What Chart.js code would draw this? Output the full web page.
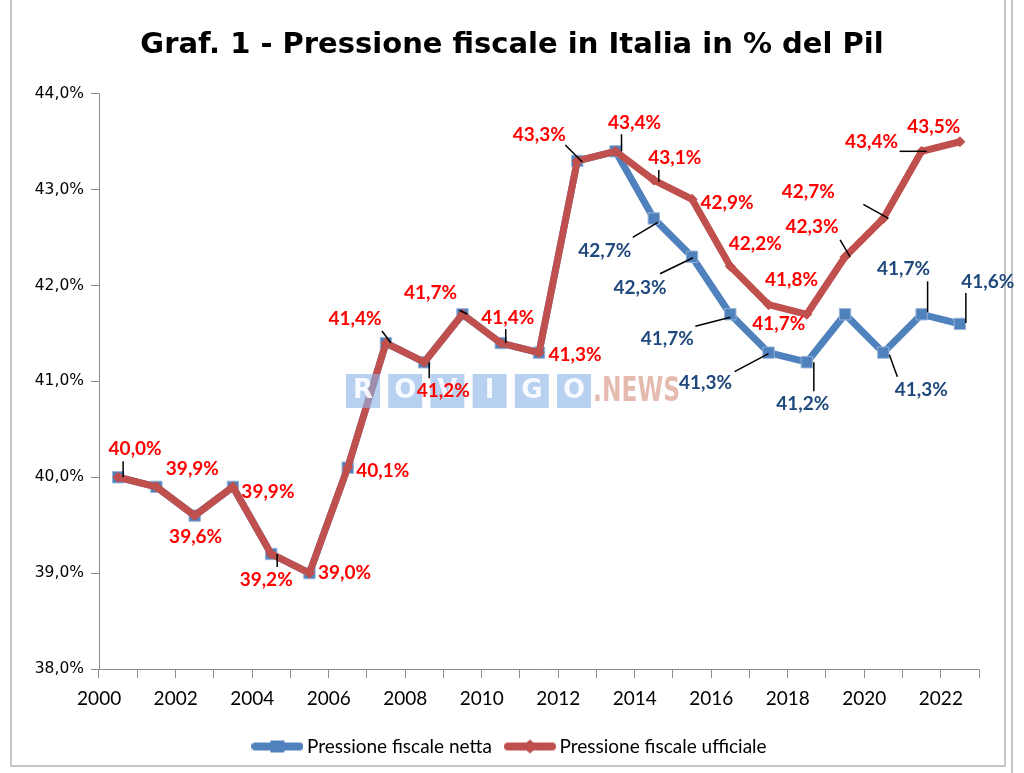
<!DOCTYPE html>
<html>
<head>
<meta charset="utf-8">
<script src="https://cdn.jsdelivr.net/npm/chart.js@4.4.1/dist/chart.umd.min.js"></script>
<style>
html,body{margin:0;padding:0;background:#ffffff;}
#wrap{position:relative;width:1024px;height:773px;}
</style>
</head>
<body>
<div id="wrap"><canvas id="c" width="1024" height="773"></canvas></div>
<script>
// ---------------- DATA ----------------
const years = ['2000','2001','2002','2003','2004','2005','2006','2007','2008','2009','2010','2011',
               '2012','2013','2014','2015','2016','2017','2018','2019','2020','2021','2022'];
const pressioneNetta = [40.0,39.9,39.6,39.9,39.2,39.0,40.1,41.4,41.2,41.7,41.4,41.3,
                        43.3,43.4,42.7,42.3,41.7,41.3,41.2,41.7,41.3,41.7,41.6];
const pressioneUfficiale = [40.0,39.9,39.6,39.9,39.2,39.0,40.1,41.4,41.2,41.7,41.4,41.3,
                            43.3,43.4,43.1,42.9,42.2,41.8,41.7,42.3,42.7,43.4,43.5];
const yTickValues = [38,39,40,41,42,43,44];
const seriesNames = ['Pressione fiscale netta','Pressione fiscale ufficiale'];
const chartTitle = 'Graf. 1 - Pressione fiscale in Italia in % del Pil';
// which values of the "netta" series carry a data label
const nettaLabelled = [false,false,false,false,false,false,false,false,false,false,false,false,
                       false,false,true,true,true,true,true,false,true,true,true];

// ---------------- LABEL PLACEMENT (style, offsets from each point in px) ----------------
// [dx, dy, leader offsets [x1,y1,x2,y2] or null]
const ufficialeLabelPlacement = [
  [17,-28,[5,-16,5,0]], [36,-18,null], [1,21,null], [35,5,null], [-5,26,[6,0,6,13]],
  [35,0,null], [35,3,null], [-31,-24,[-4,-12,5,0]], [19,29,[5,0,5,16]], [-32,-21,[-3,-4,5,0]],
  [7,-25,[5,-14,5,0]], [36,2,null], [-38,-26,[-12,-16,5,1]], [19,-28,[6,-17,6,0]],
  [21,-22,[5,-10,5,2]], [35,4,null], [25,-22,null], [23,-25,null], [-28,10,null],
  [-33,-30,[-5,-17,5,0]], [-75,-27,[-20,-14,5,0]], [-50,-9,[-22,0,5,0]], [-26,-15,null]
];
const nettaLabelPlacement = [
  null,null,null,null,null,null,null,null,null,null,null,null,null,null,
  [-49,32,[-21,19,4,4]], [-52,31,[-32,17,1,1]], [-63,25,[-35,12,0,3]], [-63,30,[-34,19,0,1]],
  [-4,42,[7,0,7,29]], null, [38,37,[6,2,14,24]], [-18,-45,[6,-33,6,-2]], [28,-42,[6,-31,6,-1]]
];

const BLUE = '#4F81BD';
const RED = '#C0504D';
const fmt = v => v.toFixed(1).replace('.', ',') + '%';

// legend symbol images (line + marker)
function legendSymbol(color, marker) {
  const cv = document.createElement('canvas');
  cv.width = 52; cv.height = 16;
  const g = cv.getContext('2d');
  g.strokeStyle = color; g.lineWidth = 8; g.lineCap = 'round';
  g.beginPath(); g.moveTo(4, 8); g.lineTo(48, 8); g.stroke();
  g.fillStyle = color;
  if (marker === 'square') {
    g.fillRect(19, 2, 14, 12);
  } else {
    g.beginPath(); g.moveTo(18, 8); g.lineTo(26, 1); g.lineTo(34, 8); g.lineTo(26, 15); g.closePath(); g.fill();
  }
  return cv;
}
const legendImgs = [legendSymbol(BLUE, 'square'), legendSymbol(RED, 'diamond')];

const framePlugin = {
  id: 'frame',
  beforeDraw(chart) {
    const ctx = chart.ctx;
    ctx.save();
    ctx.fillStyle = '#ffffff';
    ctx.fillRect(0, 0, chart.width, chart.height);
    ctx.strokeStyle = '#C6C6C6';
    ctx.lineWidth = 2;
    ctx.strokeRect(11, -5, 994, 771);
    ctx.beginPath(); ctx.moveTo(1012, 0); ctx.lineTo(1012, chart.height); ctx.stroke();
    ctx.restore();
  }
};

const labelPlugin = {
  id: 'pointLabels',
  afterDatasetsDraw(chart) {
    const ctx = chart.ctx;
    // watermark
    ctx.save();
    const letters = ['R','O','V','I','G','O'];
    ctx.textAlign = 'center'; ctx.textBaseline = 'middle';
    letters.forEach((ch, k) => {
      const bx = 346 + k * 42.2;
      ctx.fillStyle = 'rgba(140,180,230,0.62)';
      ctx.fillRect(bx, 374, 34, 34);
      ctx.fillStyle = 'rgba(255,255,255,0.88)';
      ctx.font = 'bold 26px "DejaVu Sans"';
      ctx.fillText(ch, bx + 17, 391);
    });
    ctx.fillStyle = 'rgba(205,120,95,0.5)';
    ctx.font = 'bold 33px "DejaVu Sans Condensed", "DejaVu Sans"';
    ctx.textAlign = 'left';
    ctx.fillText('.NEWS', 593, 392, 87);
    ctx.restore();

    const drawSet = (dsIndex, values, placement, color, shown) => {
      const meta = chart.getDatasetMeta(dsIndex);
      meta.data.forEach((pt, i) => {
        const p = placement[i];
        if (!p || (shown && !shown[i])) return;
        const [dx, dy, leader] = p;
        if (leader) {
          ctx.save();
          ctx.strokeStyle = '#000000';
          ctx.lineWidth = 1.5;
          ctx.beginPath();
          ctx.moveTo(pt.x + leader[0], pt.y + leader[1]);
          ctx.lineTo(pt.x + leader[2], pt.y + leader[3]);
          ctx.stroke();
          ctx.restore();
        }
        ctx.save();
        ctx.fillStyle = color;
        ctx.font = 'bold 19px Lato';
        ctx.textAlign = 'center';
        ctx.textBaseline = 'middle';
        ctx.fillText(fmt(values[i]), pt.x + dx, pt.y + dy);
        ctx.restore();
      });
    };
    drawSet(0, pressioneNetta, nettaLabelPlacement, '#1F497D', nettaLabelled);
    drawSet(1, pressioneUfficiale, ufficialeLabelPlacement, '#FF0000', null);
  }
};

new Chart(document.getElementById('c'), {
  type: 'line',
  data: {
    labels: years,
    datasets: [
      {
        label: seriesNames[0],
        data: pressioneNetta,
        borderColor: BLUE,
        backgroundColor: BLUE,
        borderWidth: 7,
        borderJoinStyle: 'round',
        borderCapStyle: 'round',
        tension: 0,
        pointStyle: 'rect',
        pointRadius: 8,
        pointBackgroundColor: BLUE,
        pointBorderColor: '#95B3D7',
        pointBorderWidth: 1,
        order: 2
      },
      {
        label: seriesNames[1],
        data: pressioneUfficiale,
        borderColor: RED,
        backgroundColor: RED,
        borderWidth: 7,
        borderJoinStyle: 'round',
        borderCapStyle: 'round',
        tension: 0,
        pointStyle: 'rectRot',
        pointRadius: 5,
        pointBackgroundColor: RED,
        pointBorderColor: RED,
        pointBorderWidth: 1,
        order: 1
      }
    ]
  },
  options: {
    responsive: false,
    devicePixelRatio: 1,
    animation: false,
    events: [],
    layout: { padding: { left: 0, right: 0, top: 0, bottom: 7 } },
    plugins: {
      title: {
        display: true,
        text: chartTitle,
        color: '#000000',
        font: { family: '"DejaVu Sans"', size: 29, weight: 'bold', lineHeight: 1.2 },
        padding: { top: 28, bottom: 31 }
      },
      legend: {
        display: true,
        position: 'bottom',
        labels: {
          usePointStyle: true,
          pointStyleWidth: 40,
          padding: 18,
          color: '#000000',
          font: { family: 'Lato', size: 19 },
          generateLabels: (chart) => chart.data.datasets.map((ds, i) => ({
            text: ds.label,
            fillStyle: ds.borderColor,
            strokeStyle: ds.borderColor,
            lineWidth: 0,
            hidden: false,
            datasetIndex: i,
            pointStyle: legendImgs[i],
            fontColor: '#000000'
          }))
        }
      },
      tooltip: { enabled: false }
    },
    scales: {
      x: {
        type: 'category',
        offset: true,
        grid: { offset: true, drawOnChartArea: false, drawTicks: true, tickLength: 9, color: '#8C8C8C', lineWidth: 1 },
        border: { color: '#8C8C8C', width: 1 },
        ticks: {
          autoSkip: false,
          maxRotation: 0,
          minRotation: 0,
          labelOffset: -19,
          padding: 9,
          color: '#000000',
          font: { family: 'Lato', size: 19 },
          callback: (v, i) => (i % 2 === 0 ? years[i] : '')
        },
        afterFit: s => { s.height = 50; }
      },
      y: {
        type: 'linear',
        min: yTickValues[0],
        max: yTickValues[yTickValues.length - 1],
        afterBuildTicks: s => { s.ticks = yTickValues.map(v => ({ value: v })); },
        grid: { drawOnChartArea: false, drawTicks: true, tickLength: 8, color: '#8C8C8C' },
        border: { color: '#8C8C8C', width: 1 },
        ticks: {
          padding: 7,
          color: '#000000',
          font: { family: '"DejaVu Sans"', size: 15.5 },
          callback: v => fmt(v)
        },
        afterFit: s => { s.width = 99; }
      },
      yRight: {
        type: 'linear',
        position: 'right',
        display: true,
        grid: { display: false },
        border: { display: false },
        ticks: { display: false },
        afterFit: s => { s.width = 45; }
      }
    }
  },
  plugins: [framePlugin, labelPlugin]
});
</script>
</body>
</html>
